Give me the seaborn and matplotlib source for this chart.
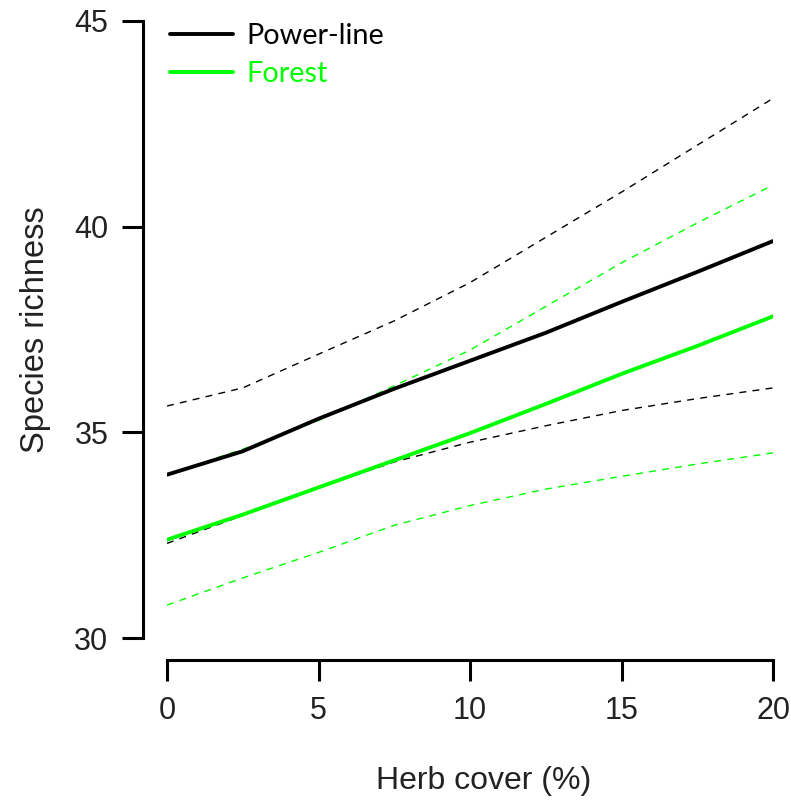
import matplotlib
matplotlib.use("Agg")
import matplotlib.pyplot as plt
import seaborn as sns
import pandas as pd

herb_cover = [0, 2.5, 5, 7.5, 10, 12.5, 15, 17.5, 20]

power_mean = [33.97, 34.54, 35.33, 36.06, 36.74, 37.42, 38.17, 38.90, 39.65]
power_upper = [35.64, 36.08, 36.90, 37.71, 38.64, 39.74, 40.84, 41.98, 43.12]
power_lower = [32.30, 32.98, 33.66, 34.28, 34.76, 35.16, 35.53, 35.82, 36.08]

forest_mean = [32.39, 33.00, 33.66, 34.32, 34.98, 35.69, 36.42, 37.10, 37.82]
forest_upper = [33.97, 34.59, 35.29, 36.13, 37.00, 38.06, 39.12, 40.09, 41.01]
forest_lower = [30.80, 31.46, 32.08, 32.74, 33.22, 33.62, 33.93, 34.23, 34.50]

x_ticks = [0, 5, 10, 15, 20]
y_ticks = [30, 35, 40, 45]

BLACK = "#000000"
GREEN = "#00FF00"

sns.set_theme(style="ticks")
plt.rcParams["font.family"] = ["Liberation Sans", "DejaVu Sans"]

fig = plt.figure(figsize=(7.91, 8.0), dpi=100)
ax = fig.add_axes([167 / 791, 1 - 638 / 800, 606 / 791, 617 / 800])

df = pd.DataFrame({"x": herb_cover})

for up, lo, col in [
    (power_upper, power_lower, BLACK),
    (forest_upper, forest_lower, GREEN),
]:
    d = df.assign(u=up, l=lo)
    sns.lineplot(data=d, x="x", y="u", ax=ax, color=col, lw=1.0,
                 legend=False).lines[-1].set_dashes((5, 4.5))
    sns.lineplot(data=d, x="x", y="l", ax=ax, color=col, lw=1.0,
                 legend=False).lines[-1].set_dashes((5, 4.5))

for mean, col, lab in [(power_mean, BLACK, "Power-line"), (forest_mean, GREEN, "Forest")]:
    d = df.assign(m=mean)
    sns.lineplot(data=d, x="x", y="m", ax=ax, color=col, lw=2.8, label=lab)

ax.set_xlim(0, 20)
ax.set_ylim(30, 45)
ax.set_xticks(x_ticks)
ax.set_yticks(y_ticks)
ax.set_xticklabels([str(t) for t in x_ticks])
ax.set_yticklabels([str(t) for t in y_ticks])

sns.despine(ax=ax, offset={"left": 17.3, "bottom": 15.8}, trim=True)
for s in ["left", "bottom"]:
    ax.spines[s].set_linewidth(2.2)
    ax.spines[s].set_color("black")

ax.tick_params(axis="both", which="major", length=15, width=2.2, color="black",
               labelsize=22, labelcolor="#222222")
ax.tick_params(axis="x", pad=11)
ax.tick_params(axis="y", pad=10)

ax.set_xlabel("Herb cover (%)", fontsize=23, color="#222222", labelpad=29)
ax.xaxis.label.set_x((484 - 167) / 606)
ax.set_ylabel("Species richness", fontsize=23.5, color="#222222", labelpad=17)

handles, labels = ax.get_legend_handles_labels()
leg = ax.legend(handles, labels, loc="upper left",
                bbox_to_anchor=(170 / 791, 1 - 23 / 800), bbox_transform=fig.transFigure,
                frameon=False, labelcolor="linecolor", handlelength=2.18, handletextpad=0.45,
                labelspacing=0.41, borderpad=0, borderaxespad=0,
                prop={"family": ["Lato", "DejaVu Sans"], "size": 20.8})
for line in leg.get_lines():
    line.set_linewidth(2.8)

fig.savefig("out.png", dpi=100, facecolor="white")
